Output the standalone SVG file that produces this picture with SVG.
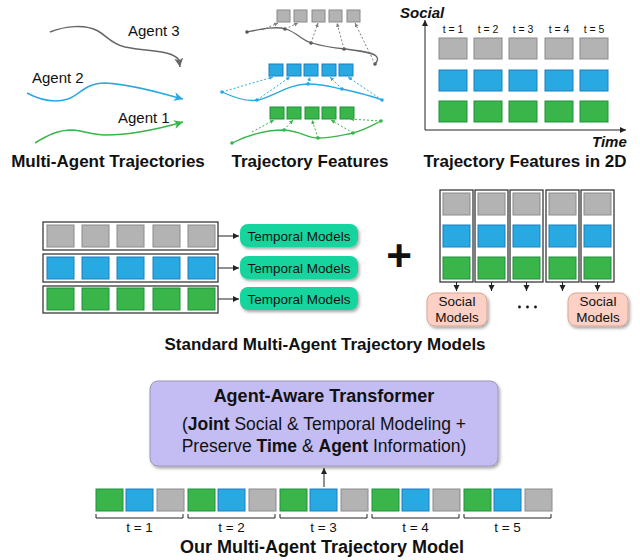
<svg xmlns="http://www.w3.org/2000/svg" width="640" height="560" viewBox="0 0 640 560">
<defs>
<style>
text{font-family:"Liberation Sans",Arial,sans-serif;fill:#111}
.title{font-size:17px;font-weight:bold;text-anchor:middle}
.big{font-size:18px;font-weight:bold;text-anchor:middle}
.ag{font-size:15px}
.ax{font-size:15px;font-weight:bold;font-style:italic}
.tl{font-size:10.5px;text-anchor:middle}
.tb{font-size:13.5px;text-anchor:middle}
.tm{font-size:13.5px;text-anchor:middle}
.g{fill:#b3b3b3;stroke:#8a8a8a;stroke-width:1}
.b{fill:#29a9e1;stroke:#1b7fc0;stroke-width:1}
.gr{fill:#39b54a;stroke:#20913a;stroke-width:1}
.frame{fill:#fff;stroke:#3a3a3a;stroke-width:1.3}
.ln{fill:none;stroke:#222;stroke-width:1}
.dg{fill:none;stroke:#808080;stroke-width:1;stroke-dasharray:2,2}
.db{fill:none;stroke:#29a9e1;stroke-width:1;stroke-dasharray:2,2}
.dgr{fill:none;stroke:#39b54a;stroke-width:1;stroke-dasharray:2,2}
</style>
<marker id="ak" markerWidth="8" markerHeight="8" refX="6" refY="3" orient="auto" markerUnits="userSpaceOnUse"><path d="M0,0 L6,3 L0,6 z" fill="#222"/></marker>
<marker id="aGray" markerWidth="12" markerHeight="12" refX="9" refY="4.5" orient="auto" markerUnits="userSpaceOnUse"><path d="M0,0 L9,4.5 L0,9 L2.5,4.5 z" fill="#666"/></marker>
<marker id="aBlue" markerWidth="12" markerHeight="12" refX="9" refY="4.5" orient="auto" markerUnits="userSpaceOnUse"><path d="M0,0 L9,4.5 L0,9 L2.5,4.5 z" fill="#29a9e1"/></marker>
<marker id="aGreen" markerWidth="12" markerHeight="12" refX="9" refY="4.5" orient="auto" markerUnits="userSpaceOnUse"><path d="M0,0 L9,4.5 L0,9 L2.5,4.5 z" fill="#39b54a"/></marker>
<marker id="sG" markerWidth="6" markerHeight="6" refX="4" refY="2" orient="auto" markerUnits="userSpaceOnUse"><path d="M0,0 L4,2 L0,4 z" fill="#808080"/></marker>
<marker id="sB" markerWidth="6" markerHeight="6" refX="4" refY="2" orient="auto" markerUnits="userSpaceOnUse"><path d="M0,0 L4,2 L0,4 z" fill="#29a9e1"/></marker>
<marker id="sGr" markerWidth="6" markerHeight="6" refX="4" refY="2" orient="auto" markerUnits="userSpaceOnUse"><path d="M0,0 L4,2 L0,4 z" fill="#39b54a"/></marker>
<filter id="sh" x="-10%" y="-20%" width="130%" height="160%"><feDropShadow dx="1.5" dy="2" stdDeviation="1.5" flood-color="#000" flood-opacity="0.35"/></filter>
</defs>
<rect width="640" height="560" fill="#fff"/>

<!-- Panel 1: Multi-Agent Trajectories -->
<g id="agent3">
<path d="M50,32 C65,26 85,24 98,31 C108,37 112,44 125,47 C150,52 172,50 179,60 L180,67" fill="none" stroke="#666" stroke-width="1.5" marker-end="url(#aGray)"/>
<text class="ag" x="128" y="36">Agent 3</text>
</g>
<g id="agent2">
<path d="M27,93 C40,100 55,103 68,99 C80,95 85,83 105,83 C130,84 160,93 183,99" fill="none" stroke="#29a9e1" stroke-width="1.5" marker-end="url(#aBlue)"/>
<text class="ag" x="32" y="83">Agent 2</text>
</g>
<g id="agent1">
<path d="M35,143 C48,135 58,130 72,130 C85,131 92,135 105,135 C125,135 155,130 183,122" fill="none" stroke="#39b54a" stroke-width="1.5" marker-end="url(#aGreen)"/>
<text class="ag" x="118" y="123">Agent 1</text>
</g>
<text class="title" x="108" y="167">Multi-Agent Trajectories</text>

<!-- Panel 2: Trajectory Features -->
<g id="feat-gray">
<rect class="g" x="277" y="10" width="13" height="12"/><rect class="g" x="294" y="10" width="13" height="12"/><rect class="g" x="312" y="10" width="13" height="12"/><rect class="g" x="329" y="10" width="13" height="12"/><rect class="g" x="347" y="10" width="13" height="12"/>
<path d="M247,32 C262,29 275,26 286,29 C298,33 302,41 312,43 C325,47 335,48 345,49 C360,51 372,52 376,56 C379,59 377,62 375,64" fill="none" stroke="#666" stroke-width="1.3"/>
<g fill="#555"><circle cx="247" cy="32" r="1.8"/><circle cx="285" cy="29" r="1.8"/><circle cx="311" cy="43" r="1.8"/><circle cx="344" cy="49" r="1.8"/><circle cx="375" cy="64" r="1.8"/></g>
</g>
<g id="feat-blue">
<rect class="b" x="269" y="64" width="14" height="12"/><rect class="b" x="287" y="64" width="14" height="12"/><rect class="b" x="304" y="64" width="14" height="12"/><rect class="b" x="322" y="64" width="14" height="12"/><rect class="b" x="339" y="64" width="14" height="12"/>
<path d="M222,92 C235,98 248,102 258,100 C275,96 288,84 308,84 C325,84 335,88 342,89 C360,93 372,96 382,100" fill="none" stroke="#29a9e1" stroke-width="1.3"/>
<g fill="#29a9e1"><circle cx="222" cy="92" r="1.8"/><circle cx="257" cy="100" r="1.8"/><circle cx="308" cy="84" r="1.8"/><circle cx="342" cy="89" r="1.8"/><circle cx="382" cy="100" r="1.8"/></g>
</g>
<g id="feat-green">
<rect class="gr" x="270" y="107" width="14" height="12"/><rect class="gr" x="287" y="107" width="14" height="12"/><rect class="gr" x="305" y="107" width="14" height="12"/><rect class="gr" x="322" y="107" width="14" height="12"/><rect class="gr" x="340" y="107" width="14" height="12"/>
<path d="M232,143 C248,135 265,130 284,130 C300,131 308,138 318,138 C333,138 342,135 353,133 C365,130 373,125 381,121" fill="none" stroke="#39b54a" stroke-width="1.3"/>
<g fill="#39b54a"><circle cx="232" cy="143" r="1.8"/><circle cx="284" cy="130" r="1.8"/><circle cx="318" cy="138" r="1.8"/><circle cx="353" cy="133" r="1.8"/><circle cx="381" cy="121" r="1.8"/></g>
</g>
<g id="feat-connectors">
<path class="dg" d="M262,30 L278,23" marker-end="url(#sG)"/>
<path class="dg" d="M285,29 L298,23" marker-end="url(#sG)"/>
<path class="dg" d="M311,43 L318,23" marker-end="url(#sG)"/>
<path class="dg" d="M344,49 L337,23" marker-end="url(#sG)"/>
<path class="dg" d="M375,64 L355,23" marker-end="url(#sG)"/>
<path class="db" d="M222,92 L273,77" marker-end="url(#sB)"/>
<path class="db" d="M257,100 L290,77" marker-end="url(#sB)"/>
<path class="db" d="M308,84 L310,77" marker-end="url(#sB)"/>
<path class="db" d="M342,89 L330,77" marker-end="url(#sB)"/>
<path class="db" d="M382,100 L348,77" marker-end="url(#sB)"/>
<path class="dgr" d="M252,132 L274,120" marker-end="url(#sGr)"/>
<path class="dgr" d="M284,130 L293,120" marker-end="url(#sGr)"/>
<path class="dgr" d="M318,138 L312,120" marker-end="url(#sGr)"/>
<path class="dgr" d="M353,133 L331,120" marker-end="url(#sGr)"/>
<path class="dgr" d="M381,121 L350,119" marker-end="url(#sGr)"/>
</g>
<text class="title" x="310" y="167">Trajectory Features</text>

<!-- Panel 3: Trajectory Features in 2D -->
<g id="grid2d">
<path class="ln" d="M425,130 L425,20" marker-end="url(#ak)"/>
<path class="ln" d="M425,130 L626,130" marker-end="url(#ak)"/>
<text class="ax" x="400" y="18">Social</text>
<text class="ax" x="592" y="147">Time</text>
<text class="tl" x="453" y="33">t = 1</text><text class="tl" x="488" y="33">t = 2</text><text class="tl" x="523" y="33">t = 3</text><text class="tl" x="559" y="33">t = 4</text><text class="tl" x="594" y="33">t = 5</text>
<rect class="g" x="439" y="38" width="28" height="21"/><rect class="g" x="474" y="38" width="28" height="21"/><rect class="g" x="509" y="38" width="28" height="21"/><rect class="g" x="545" y="38" width="28" height="21"/><rect class="g" x="580" y="38" width="28" height="21"/>
<rect class="b" x="439" y="70" width="28" height="21"/><rect class="b" x="474" y="70" width="28" height="21"/><rect class="b" x="509" y="70" width="28" height="21"/><rect class="b" x="545" y="70" width="28" height="21"/><rect class="b" x="580" y="70" width="28" height="21"/>
<rect class="gr" x="439" y="101" width="28" height="21"/><rect class="gr" x="474" y="101" width="28" height="21"/><rect class="gr" x="509" y="101" width="28" height="21"/><rect class="gr" x="545" y="101" width="28" height="21"/><rect class="gr" x="580" y="101" width="28" height="21"/>
</g>
<text class="title" x="525" y="167">Trajectory Features in 2D</text>

<!-- Middle left: temporal -->
<g id="row-gray">
<rect class="frame" x="43" y="222" width="175" height="28"/>
<rect class="g" x="47" y="225" width="27" height="22"/><rect class="g" x="82" y="225" width="27" height="22"/><rect class="g" x="117" y="225" width="27" height="22"/><rect class="g" x="153" y="225" width="27" height="22"/><rect class="g" x="188" y="225" width="27" height="22"/>
</g>
<g id="row-blue">
<rect class="frame" x="43" y="254" width="175" height="28"/>
<rect class="b" x="47" y="257" width="27" height="22"/><rect class="b" x="82" y="257" width="27" height="22"/><rect class="b" x="117" y="257" width="27" height="22"/><rect class="b" x="153" y="257" width="27" height="22"/><rect class="b" x="188" y="257" width="27" height="22"/>
</g>
<g id="row-green">
<rect class="frame" x="43" y="286" width="175" height="27"/>
<rect class="gr" x="47" y="288" width="27" height="22"/><rect class="gr" x="82" y="288" width="27" height="22"/><rect class="gr" x="117" y="288" width="27" height="22"/><rect class="gr" x="153" y="288" width="27" height="22"/><rect class="gr" x="188" y="288" width="27" height="22"/>
</g>
<g id="tm1"><rect x="240" y="224" width="118" height="23" rx="8" fill="#14d49d" filter="url(#sh)"/><text class="tm" x="299" y="240.5">Temporal Models</text></g>
<g id="tm2"><rect x="240" y="256" width="118" height="23" rx="8" fill="#14d49d" filter="url(#sh)"/><text class="tm" x="299" y="272.5">Temporal Models</text></g>
<g id="tm3"><rect x="240" y="287" width="118" height="23" rx="8" fill="#14d49d" filter="url(#sh)"/><text class="tm" x="299" y="303.5">Temporal Models</text></g>

<!-- Plus -->
<text x="399" y="271" font-size="44" font-weight="bold" text-anchor="middle">+</text>

<!-- Middle right: social -->
<g id="col1"><rect class="frame" x="440" y="190" width="33" height="92"/><rect class="g" x="443" y="193" width="27" height="22"/><rect class="b" x="443" y="225" width="27" height="22"/><rect class="gr" x="443" y="257" width="27" height="22"/></g>
<g id="col2"><rect class="frame" x="475" y="190" width="33" height="92"/><rect class="g" x="478" y="193" width="27" height="22"/><rect class="b" x="478" y="225" width="27" height="22"/><rect class="gr" x="478" y="257" width="27" height="22"/></g>
<g id="col3"><rect class="frame" x="510" y="190" width="33" height="92"/><rect class="g" x="513" y="193" width="27" height="22"/><rect class="b" x="513" y="225" width="27" height="22"/><rect class="gr" x="513" y="257" width="27" height="22"/></g>
<g id="col4"><rect class="frame" x="546" y="190" width="33" height="92"/><rect class="g" x="549" y="193" width="27" height="22"/><rect class="b" x="549" y="225" width="27" height="22"/><rect class="gr" x="549" y="257" width="27" height="22"/></g>
<g id="col5"><rect class="frame" x="581" y="190" width="33" height="92"/><rect class="g" x="584" y="193" width="27" height="22"/><rect class="b" x="584" y="225" width="27" height="22"/><rect class="gr" x="584" y="257" width="27" height="22"/></g>
<g id="sm1"><rect x="427" y="293" width="60" height="33" rx="8" fill="#fcd0c4" stroke="#d9a594" stroke-width="1" filter="url(#sh)"/><text class="tm" x="457" y="306">Social</text><text class="tm" x="457" y="322">Models</text></g>
<g id="sm2"><rect x="568" y="293" width="60" height="33" rx="8" fill="#fcd0c4" stroke="#d9a594" stroke-width="1" filter="url(#sh)"/><text class="tm" x="598" y="306">Social</text><text class="tm" x="598" y="322">Models</text></g>
<g id="ellipsis" fill="#111"><circle cx="519.5" cy="307" r="1.4"/><circle cx="527.5" cy="307" r="1.4"/><circle cx="535.5" cy="307" r="1.4"/></g>

<g id="mid-connectors">
<path class="ln" d="M218,236 L239,236" marker-end="url(#ak)"/>
<path class="ln" d="M218,268 L239,268" marker-end="url(#ak)"/>
<path class="ln" d="M218,299 L239,299" marker-end="url(#ak)"/>
<path class="ln" d="M456.5,282 L456.5,291" marker-end="url(#ak)"/>
<path class="ln" d="M491.5,282 L491.5,291" marker-end="url(#ak)"/>
<path class="ln" d="M526.5,282 L526.5,291" marker-end="url(#ak)"/>
<path class="ln" d="M562.5,282 L562.5,291" marker-end="url(#ak)"/>
<path class="ln" d="M597.5,282 L597.5,291" marker-end="url(#ak)"/>
</g>
<text class="title" x="325" y="350">Standard Multi-Agent Trajectory Models</text>

<!-- Bottom -->
<g id="transformer">
<rect x="150" y="381" width="348" height="85" rx="8" fill="#c4bdf4" stroke="#9a96b8" stroke-width="1" filter="url(#sh)"/>
<text x="324" y="402" font-size="18" font-weight="bold" text-anchor="middle">Agent-Aware Transformer</text>
<text x="324" y="430" font-size="17.5" text-anchor="middle">(<tspan font-weight="bold">Joint</tspan> Social &amp; Temporal Modeling +</text>
<text x="324" y="452" font-size="17.5" text-anchor="middle">Preserve <tspan font-weight="bold">Time</tspan> &amp; <tspan font-weight="bold">Agent</tspan> Information)</text>
</g>
<g id="seq">
<rect class="gr" x="96" y="489" width="27" height="22"/><rect class="b" x="126" y="489" width="27" height="22"/><rect class="g" x="157" y="489" width="27" height="22"/>
<rect class="gr" x="188" y="489" width="27" height="22"/><rect class="b" x="218" y="489" width="27" height="22"/><rect class="g" x="249" y="489" width="27" height="22"/>
<rect class="gr" x="280" y="489" width="27" height="22"/><rect class="b" x="310" y="489" width="27" height="22"/><rect class="g" x="341" y="489" width="27" height="22"/>
<rect class="gr" x="372" y="489" width="27" height="22"/><rect class="b" x="402" y="489" width="27" height="22"/><rect class="g" x="433" y="489" width="27" height="22"/>
<rect class="gr" x="464" y="489" width="27" height="22"/><rect class="b" x="494" y="489" width="27" height="22"/><rect class="g" x="525" y="489" width="27" height="22"/>
<path class="ln" d="M96,514 L96,518 L183,518 L183,514 M188,514 L188,518 L275,518 L275,514 M280,514 L280,518 L367,518 L367,514 M372,514 L372,518 L459,518 L459,514 M464,514 L464,518 L551,518 L551,514"/>
<text class="tb" x="139.5" y="532">t = 1</text><text class="tb" x="231.5" y="532">t = 2</text><text class="tb" x="323.5" y="532">t = 3</text><text class="tb" x="415.5" y="532">t = 4</text><text class="tb" x="507.5" y="532">t = 5</text>
</g>
<g id="bottom-connectors"><path class="ln" d="M324,487 L324,468" marker-end="url(#ak)"/></g>
<text class="big" x="322" y="553">Our Multi-Agent Trajectory Model</text>
</svg>
